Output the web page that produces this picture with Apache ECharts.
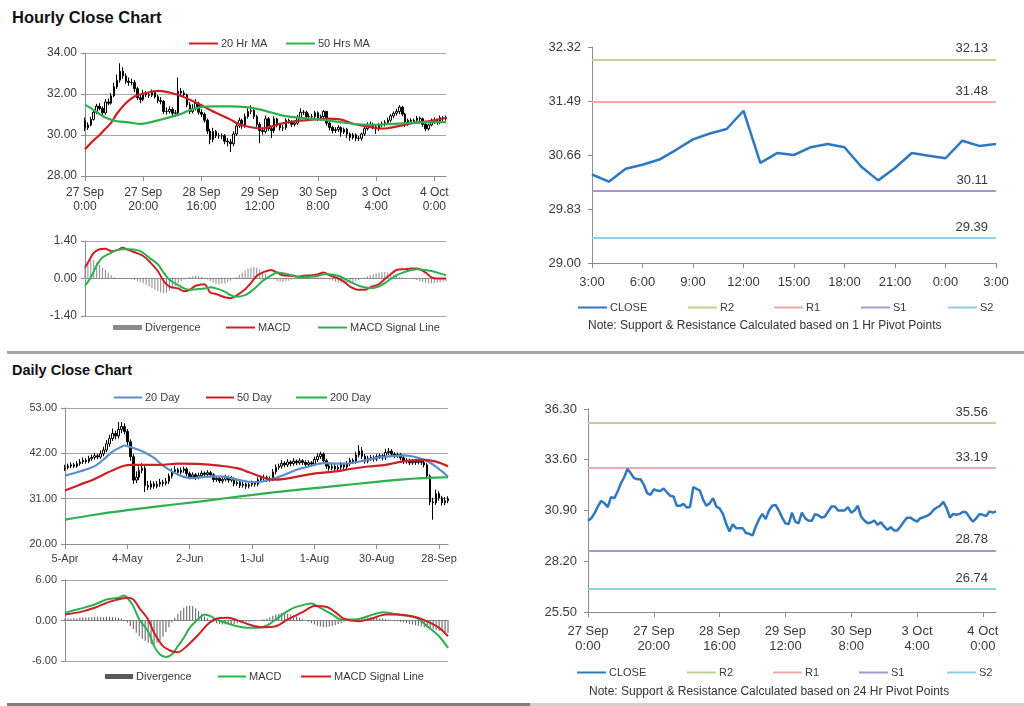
<!DOCTYPE html>
<html><head><meta charset="utf-8">
<script src="https://cdn.jsdelivr.net/npm/echarts@6/dist/echarts.min.js"></script>
<style>
html,body{margin:0;padding:0;background:#fff;width:1024px;height:706px;overflow:hidden;font-family:"Liberation Sans",Arial,sans-serif;}
.c{position:absolute;left:0;top:0;width:1024px;height:706px;}
.t{position:absolute;left:12px;font-weight:bold;color:#111;line-height:1;white-space:nowrap;}
.sep{position:absolute;height:3px;}
</style></head><body>
<div class="t" style="top:9px;font-size:16.5px;">Hourly Close Chart</div>
<div class="t" style="top:363px;font-size:14.5px;">Daily Close Chart</div>
<div class="sep" style="left:7px;width:1017px;top:351px;background:#a6a6a6"></div>
<div class="sep" style="left:7px;width:523px;top:703px;background:#7f7f7f"></div>
<div class="sep" style="left:530px;width:494px;top:703px;background:#cfcfcf"></div>
<div id="c1" class="c"></div><div id="c2" class="c"></div><div id="c3" class="c"></div>
<div id="c4" class="c"></div><div id="c5" class="c"></div><div id="c6" class="c"></div>
<script>
// ---------- categories / tick labels ----------
const hourCats = [];
(function(){let d=27,m='Sep',h=0;for(let i=0;i<125;i++){hourCats.push(d+' '+m+'\n'+h+':00');h++;if(h===24){h=0;d++;if(m==='Sep'&&d===31){d=3;m='Oct';}}}})();
const pivotCats = [];
for (let i=0;i<25;i++) pivotCats.push(((3+i)%24)+':00');
const dayCats = [];
(function(){const mn=['Jan','Feb','Mar','Apr','May','Jun','Jul','Aug','Sep','Oct','Nov','Dec'];let t=Date.UTC(2016,3,5);while(dayCats.length<130){const dt=new Date(t);const wd=dt.getUTCDay();if(wd!==0&&wd!==6)dayCats.push(dt.getUTCDate()+'-'+mn[dt.getUTCMonth()]);t+=86400000;}})();

// ---------- hourly data ----------
const hClose = [30.35,30.49,30.76,31.11,31.41,31.29,31.08,31.61,31.55,31.91,
32.35,32.67,33.11,32.88,32.62,32.56,32.56,32.26,31.82,31.73,
32.03,31.96,31.94,32.07,31.86,31.68,31.64,31.15,31.15,31.25,
31.06,31.08,32.14,32.05,31.96,31.47,31.15,31.29,31.55,31.11,
31.01,30.72,30.19,29.78,30.17,29.96,29.96,29.96,29.70,29.66,
29.57,30.05,30.44,30.72,30.44,30.90,31.15,31.20,30.90,30.52,
30.22,30.17,30.79,30.31,30.22,30.79,30.49,30.35,30.35,30.71,
30.65,30.52,30.58,30.85,31.11,31.11,30.90,30.90,30.90,31.08,
30.79,30.90,31.15,30.58,30.37,30.22,30.26,30.37,30.14,30.28,
30.05,29.87,30.01,29.84,29.84,30.05,30.31,30.52,30.52,30.40,
30.31,30.49,30.54,30.61,30.72,30.93,31.06,31.15,31.36,31.02,
30.52,30.72,30.67,30.72,30.83,30.79,30.52,30.30,30.49,30.72,
30.67,30.61,30.85,30.79,30.85];
const hOpen = [30.70,30.35,30.49,30.76,31.11,31.41,31.29,31.08,31.61,31.55,
31.91,32.35,32.67,33.11,32.88,32.62,32.56,32.56,32.26,31.82,
31.73,32.03,31.96,31.94,32.07,31.86,31.68,31.64,31.15,31.15,
31.25,31.06,31.08,32.14,32.05,31.96,31.47,31.15,31.29,31.55,
31.11,31.01,30.72,30.19,29.78,30.17,29.96,29.96,29.96,29.70,
29.66,29.57,30.05,30.44,30.72,30.44,30.90,31.15,31.20,30.90,
30.52,30.22,30.17,30.79,30.31,30.22,30.79,30.49,30.35,30.35,
30.71,30.65,30.52,30.58,30.85,31.11,31.11,30.90,30.90,30.90,
31.08,30.79,30.90,31.15,30.58,30.37,30.22,30.26,30.37,30.14,
30.28,30.05,29.87,30.01,29.84,29.84,30.05,30.31,30.52,30.52,
30.40,30.31,30.49,30.54,30.61,30.72,30.93,31.06,31.15,31.36,
31.02,30.52,30.72,30.67,30.72,30.83,30.79,30.52,30.30,30.49,
30.72,30.67,30.61,30.85,30.79];
const hHigh = [30.85,30.62,30.88,31.25,31.52,31.55,31.40,31.75,31.78,32.05,
32.55,32.95,33.50,33.30,33.00,32.80,32.75,32.68,32.35,31.98,
32.20,32.15,32.10,32.22,32.15,31.95,31.85,31.70,31.35,31.40,
31.35,31.22,32.80,32.30,32.18,32.02,31.60,31.50,31.75,31.62,
31.25,31.10,30.80,30.30,30.35,30.25,30.10,30.08,30.05,29.85,
29.80,30.18,30.60,30.85,30.80,31.05,31.30,31.45,31.28,30.98,
30.62,30.35,30.95,30.88,30.42,30.92,30.85,30.58,30.50,30.82,
30.80,30.72,30.70,30.98,31.30,31.22,31.18,31.05,31.02,31.18,
31.15,31.00,31.22,31.18,30.65,30.45,30.38,30.48,30.42,30.36,
30.35,30.12,30.10,30.08,29.95,30.12,30.42,30.62,30.65,30.60,
30.50,30.58,30.66,30.72,30.85,31.02,31.15,31.28,31.45,31.42,
31.08,30.80,30.82,30.80,30.92,30.90,30.85,30.58,30.55,30.80,
30.85,30.75,30.95,30.92,30.95];
const hLow = [30.20,30.25,30.42,30.70,31.02,31.20,30.98,31.00,31.45,31.48,
31.85,32.25,32.55,32.75,32.50,32.40,32.42,32.10,31.70,31.55,
31.65,31.85,31.80,31.85,31.78,31.55,31.50,31.02,31.00,31.05,
30.92,30.90,30.98,31.90,31.82,31.35,31.02,31.05,31.20,31.00,
30.88,30.60,30.05,29.55,29.65,29.85,29.82,29.80,29.55,29.45,
29.17,29.45,29.95,30.35,30.30,30.35,30.80,31.02,30.78,30.40,
29.60,30.02,30.08,30.20,29.85,30.10,30.38,30.22,30.20,30.25,
30.55,30.40,30.42,30.50,30.75,30.98,30.80,30.78,30.80,30.82,
30.68,30.70,30.82,30.45,30.22,30.08,30.10,30.15,29.92,30.05,
29.85,29.72,29.78,29.70,29.70,29.72,29.95,30.22,30.40,30.28,
30.05,30.20,30.38,30.42,30.50,30.62,30.82,30.95,31.02,30.92,
30.40,30.45,30.55,30.58,30.62,30.65,30.40,30.18,30.22,30.42,
30.55,30.50,30.52,30.68,30.70];
// moving averages read at sampled hours: [hour index, value]
const hMA20 = [[0,29.3],[3,29.75],[5,30.0],[7,30.3],[9,30.6],[11,31.05],[14,31.55],[17,31.88],[21,32.05],[25,32.15],[28,32.1],[32,31.95],[36,31.72],[40,31.45],[43,31.22],[47,30.95],[50,30.75],[53,30.52],[57,30.38],[61,30.32],[64,30.42],[67,30.54],[72,30.67],[78,30.75],[83,30.8],[88,30.75],[92,30.55],[97,30.42],[101,30.31],[104,30.33],[109,30.47],[113,30.59],[118,30.67],[122,30.78],[124,30.83]];
const hMA50 = [[0,31.48],[3,31.22],[7,30.85],[11,30.67],[15,30.62],[19,30.54],[22,30.6],[26,30.75],[29,30.86],[33,31.03],[36,31.22],[40,31.37],[44,31.4],[50,31.4],[56,31.35],[60,31.25],[64,31.1],[69,30.92],[75,30.83],[81,30.75],[87,30.64],[92,30.55],[98,30.5],[104,30.53],[110,30.58],[116,30.62],[124,30.63]];
const hMacd = [[0,0.41],[1,0.59],[3,0.96],[5,1.09],[7,1.11],[9,1.02],[11,1.06],[13,1.15],[15,1.06],[18,0.94],[20,0.84],[22,0.65],[25,0.28],[27,-0.09],[29,-0.30],[32,-0.37],[34,-0.48],[36,-0.42],[38,-0.27],[41,-0.21],[43,-0.52],[45,-0.58],[48,-0.70],[50,-0.74],[52,-0.64],[55,-0.40],[57,-0.17],[59,0.10],[61,0.22],[64,0.32],[66,0.22],[68,0.12],[71,0.10],[73,0.07],[75,0.10],[78,0.12],[80,0.16],[82,0.22],[84,0.12],[87,0.0],[89,-0.12],[91,-0.30],[94,-0.42],[96,-0.42],[98,-0.33],[101,-0.21],[103,-0.02],[105,0.16],[107,0.32],[110,0.35],[112,0.37],[114,0.37],[117,0.22],[119,0.04],[121,0.0],[124,0.0]];
const hSignal = [[0,-0.27],[2,0.04],[4,0.49],[6,0.78],[9,0.96],[11,1.06],[13,1.09],[15,1.09],[18,1.06],[20,0.96],[22,0.78],[25,0.53],[27,0.22],[29,-0.05],[32,-0.25],[34,-0.37],[36,-0.42],[38,-0.40],[41,-0.37],[43,-0.33],[45,-0.37],[48,-0.49],[50,-0.62],[52,-0.68],[55,-0.62],[57,-0.49],[59,-0.30],[61,-0.09],[64,0.12],[66,0.22],[68,0.20],[71,0.12],[73,0.07],[75,0.04],[78,0.07],[80,0.10],[82,0.16],[84,0.16],[87,0.10],[89,0.0],[91,-0.12],[94,-0.27],[96,-0.33],[98,-0.36],[101,-0.30],[103,-0.17],[105,-0.02],[107,0.12],[110,0.25],[112,0.32],[114,0.35],[117,0.32],[119,0.28],[121,0.22],[124,0.12]];
const hDiv = [0.45,0.65,0.72,0.68,0.60,0.50,0.40,0.32,0.22,0.12,
0.05,0.02,0.02,0.03,0.02,-0.01,-0.03,-0.06,-0.10,-0.14,
-0.18,-0.24,-0.30,-0.36,-0.42,-0.48,-0.52,-0.55,-0.52,-0.46,
-0.38,-0.28,-0.18,-0.10,-0.04,0.02,0.06,0.08,0.10,0.08,
0.06,0.02,-0.04,-0.10,-0.16,-0.20,-0.22,-0.20,-0.18,-0.14,
-0.08,-0.02,0.05,0.14,0.22,0.30,0.36,0.40,0.42,0.40,
0.34,0.26,0.18,0.10,0.02,-0.04,-0.10,-0.12,-0.12,-0.10,
-0.08,-0.05,-0.03,-0.01,0.01,0.02,0.03,0.04,0.05,0.06,
0.05,0.04,0.02,-0.02,-0.05,-0.08,-0.12,-0.16,-0.18,-0.20,
-0.20,-0.18,-0.15,-0.10,-0.06,-0.02,0.03,0.08,0.12,0.16,
0.20,0.22,0.24,0.24,0.22,0.18,0.14,0.10,0.06,0.04,
0.02,0.01,0.00,-0.03,-0.06,-0.10,-0.14,-0.16,-0.18,-0.18,
-0.18,-0.16,-0.14,-0.12,-0.10];

// ---------- 1 hr pivot chart ----------
const pivotClose = [30.36,30.25,30.45,30.51,30.59,30.74,30.90,30.99,31.06,31.34,
30.54,30.69,30.66,30.78,30.83,30.78,30.48,30.27,30.46,30.69,
30.65,30.61,30.88,30.80,30.83];
const pivot1h = {R2:32.13, R1:31.48, S1:30.11, S2:29.39};
const pivot24h = {R2:35.56, R1:33.19, S1:28.78, S2:26.74};

// ---------- daily data ----------
const dClose = [38.6,38.9,39.2,38.9,39.5,39.9,40.3,40.0,40.7,41.0,
41.4,41.1,41.9,42.8,44.3,45.6,46.8,46.2,47.8,48.5,
47.3,44.8,41.2,35.5,36.2,37.8,38.4,34.2,33.8,34.6,
34.0,34.5,35.0,34.7,35.2,36.5,37.6,38.0,37.4,37.9,
38.2,37.1,36.3,36.8,36.1,36.6,37.2,36.9,37.3,36.8,
35.6,35.9,35.3,35.7,36.2,35.5,35.9,34.6,34.9,34.2,
34.5,34.0,34.4,34.8,34.5,35.6,35.9,36.2,35.6,35.8,
37.5,38.6,38.9,39.6,39.2,39.9,39.5,40.1,39.7,40.2,
39.8,39.3,39.7,39.4,40.5,41.2,41.8,40.2,38.9,38.4,
38.8,38.2,38.6,39.3,38.7,39.5,40.3,40.0,41.6,42.6,
41.3,40.1,40.8,41.0,40.6,41.2,41.4,40.9,42.2,42.5,
41.8,41.4,41.7,40.9,40.0,40.3,39.7,40.1,39.8,40.0,
39.8,39.2,36.5,30.2,30.0,32.2,31.2,30.0,30.5,31.0];
const dOpen = [38.3,38.6,38.9,39.2,38.9,39.5,39.9,40.3,40.0,40.7,
41.0,41.4,41.1,41.9,42.8,44.3,45.6,46.8,46.2,47.8,
48.5,47.3,44.8,41.2,35.5,36.2,37.8,38.4,34.2,33.8,
34.6,34.0,34.5,35.0,34.7,35.2,36.5,37.6,38.0,37.4,
37.9,38.2,37.1,36.3,36.8,36.1,36.6,37.2,36.9,37.3,
36.8,35.6,35.9,35.3,35.7,36.2,35.5,35.9,34.6,34.9,
34.2,34.5,34.0,34.4,34.8,34.5,35.6,35.9,36.2,35.6,
35.8,37.5,38.6,38.9,39.6,39.2,39.9,39.5,40.1,39.7,
40.2,39.8,39.3,39.7,39.4,40.5,41.2,41.8,40.2,38.9,
38.4,38.8,38.2,38.6,39.3,38.7,39.5,40.3,40.0,41.6,
42.6,41.3,40.1,40.8,41.0,40.6,41.2,41.4,40.9,42.2,
42.5,41.8,41.4,41.7,40.9,40.0,40.3,39.7,40.1,39.8,
40.0,39.8,39.2,36.5,30.2,30.0,32.2,31.2,30.0,30.5];
const dHigh = [39.2,39.5,39.8,39.7,40.1,40.6,41.0,40.8,41.4,41.7,
42.1,41.9,42.7,43.6,45.2,46.5,48.0,47.5,49.6,49.6,
49.3,47.9,45.4,41.8,37.6,38.8,39.6,38.9,35.3,35.4,
35.2,35.3,35.8,35.6,36.0,37.1,38.3,38.9,38.5,38.6,
38.8,38.6,37.6,37.4,37.2,37.3,37.8,37.6,37.9,37.7,
37.2,36.5,36.3,36.3,36.8,36.6,36.5,36.2,35.6,35.3,
35.1,34.9,35.0,35.4,35.2,36.2,36.6,36.8,36.6,36.4,
38.2,39.3,39.5,40.4,40.1,40.6,40.3,40.8,40.5,40.8,
40.6,40.3,40.3,40.1,41.2,42.0,42.4,42.2,40.7,39.5,
39.4,39.3,39.1,39.9,39.7,40.1,40.9,40.8,42.4,44.0,
43.5,41.8,41.4,41.6,41.5,41.8,42.0,41.8,43.1,43.3,
43.0,42.3,42.2,42.1,41.4,40.8,40.7,40.6,40.5,40.5,
40.4,40.2,39.6,36.9,31.2,33.2,32.8,31.7,31.4,31.6];
const dLow = [37.7,38.1,38.4,38.4,38.5,39.0,39.4,39.5,39.6,40.2,
40.5,40.6,40.7,41.3,42.3,43.6,45.0,45.4,45.6,46.9,
46.6,44.0,40.2,34.6,34.8,35.5,37.1,32.6,33.1,33.2,
33.4,33.5,33.9,34.0,34.2,34.6,35.9,37.0,36.8,36.9,
37.3,36.5,35.7,35.8,35.5,35.7,36.1,36.3,36.4,36.2,
35.0,35.1,34.8,34.7,35.2,34.9,35.0,34.0,34.1,33.6,
33.7,33.4,33.5,33.9,33.9,34.0,35.0,35.3,35.0,35.1,
35.3,36.9,38.0,38.3,38.6,38.7,38.9,39.0,39.1,39.2,
39.2,38.7,38.8,38.8,38.9,39.9,40.6,39.5,38.2,37.8,
37.9,37.6,37.7,38.0,38.1,38.2,38.9,39.4,39.5,41.0,
40.6,39.5,39.6,40.2,40.0,40.1,40.6,40.3,40.4,41.6,
41.2,40.8,40.9,40.3,39.4,39.5,39.1,39.2,39.2,39.3,
39.2,38.6,35.8,29.4,25.9,29.5,30.5,29.3,29.4,29.9];
// moving averages read at sampled days: [day index, value]
const dMA20 = [[0,36.6],[5,37.6],[10,38.9],[13,40.5],[16,42.4],[19,43.6],[20,43.9],[23,43.3],[26,42.5],[30,40.9],[33,39.0],[37,37.2],[40,36.3],[43,36.0],[47,36.3],[50,36.4],[54,36.3],[57,35.8],[60,35.3],[63,35.0],[66,35.1],[70,35.8],[74,36.8],[78,38.0],[83,39.0],[87,39.6],[92,39.5],[96,39.6],[101,40.3],[105,40.9],[110,41.3],[114,41.5],[119,40.9],[123,39.7],[127,37.6],[129,36.3]];
const dMA50 = [[0,33.0],[5,34.4],[10,35.8],[14,37.2],[18,38.5],[20,39.0],[22,39.2],[28,39.2],[32,39.2],[38,39.5],[46,39.4],[52,39.0],[58,38.4],[62,37.4],[66,36.3],[70,35.6],[74,35.8],[80,36.6],[85,37.2],[91,37.6],[96,38.2],[102,38.8],[108,39.2],[112,39.8],[117,40.3],[121,40.4],[125,40.0],[128,39.2],[129,38.8]];
const dMA200 = [[0,25.9],[10,27.1],[21,28.2],[32,29.2],[43,30.1],[54,31.1],[64,32.0],[75,32.9],[86,33.7],[97,34.5],[108,35.3],[118,35.9],[121,36.0],[129,36.2]];
const dMacd = [[0,1.14],[5,1.73],[10,2.38],[14,3.1],[18,3.37],[20,3.7],[21,3.37],[23,2.13],[25,0.15],[28,-1.58],[30,-3.8],[32,-5.05],[34,-5.4],[36,-5.05],[38,-3.8],[40,-2.57],[42,-1.09],[45,0.25],[47,0.89],[49,0.64],[51,0.15],[55,-0.45],[58,-0.84],[62,-1.09],[65,-1.09],[68,-0.74],[71,0.15],[74,1.14],[77,1.88],[81,2.38],[83,2.52],[86,1.88],[90,0.89],[93,0.15],[98,0.15],[102,0.64],[107,1.24],[109,1.14],[112,0.89],[116,0.64],[119,0.25],[122,-0.84],[126,-2.33],[129,-4.06]];
const dSignal = [[0,0.89],[5,1.24],[10,1.88],[14,2.62],[17,3.02],[21,3.37],[23,3.12],[25,1.88],[28,0.15],[30,-1.83],[33,-3.8],[36,-4.55],[38,-4.7],[41,-3.8],[45,-2.08],[48,-0.59],[51,0.25],[55,0.4],[58,0.05],[62,-0.59],[66,-0.99],[71,-0.84],[75,0.15],[80,1.24],[84,2.13],[88,2.03],[91,1.24],[94,0.25],[99,-0.1],[103,0.25],[108,0.89],[112,0.89],[117,0.64],[121,0.05],[126,-1.09],[129,-2.33]];
const dDiv = [0.25,0.3,0.3,0.35,0.35,0.4,0.45,0.45,0.5,0.5,
0.55,0.55,0.5,0.5,0.55,0.55,0.5,0.45,0.4,0.3,
0.1,-0.3,-0.8,-1.3,-1.8,-2.3,-2.7,-3.0,-3.3,-3.5,
-3.5,-3.3,-3.0,-2.4,-1.7,-1.0,-0.3,0.4,1.0,1.5,
1.9,2.1,2.2,2.1,1.8,1.4,1.0,0.6,0.3,0.0,
-0.2,-0.4,-0.5,-0.6,-0.6,-0.6,-0.5,-0.5,-0.4,-0.3,
-0.3,-0.2,-0.2,-0.1,-0.1,0.0,0.1,0.2,0.3,0.5,
0.7,0.9,1.0,1.1,1.1,1.0,0.9,0.8,0.6,0.4,
0.2,0.0,-0.2,-0.4,-0.6,-0.8,-0.9,-1.0,-1.0,-0.9,
-0.8,-0.7,-0.5,-0.4,-0.2,-0.1,0.0,0.1,0.2,0.3,
0.4,0.4,0.5,0.5,0.5,0.4,0.3,0.3,0.2,0.1,
0.0,-0.1,-0.1,-0.2,-0.3,-0.4,-0.5,-0.6,-0.7,-0.8,
-0.9,-1.0,-1.1,-1.2,-1.3,-1.4,-1.5,-1.6,-1.7,-1.8];

// ---------- styling ----------
const FONT = 'Liberation Sans';
const TXT = '#3a3a3a';
const AX = '#8c8c8c';
const GRIDC = '#a6a6a6';
const RED = '#cc2027', GREEN = '#2db04e', BLUE = '#2f78bd', LBLUE = '#5b8dcc', GREY = '#8a8a8a', DGREY = '#5a5a5a';
const LVL = {R2:'#bcd48d', R1:'#f2a9a9', S1:'#a996cc', S2:'#8fd0e6'};
const f2 = v => v.toFixed(2);

// items: [name, left, isRect, width]
function legendItems(items, top, h) {
  return items.map(it => {
    const lg = {
      left: it[1], top: top, data: [it[2] ? {name: it[0], icon: 'rect'} : it[0]],
      itemWidth: it[3] || 29, itemHeight: h, itemGap: 0, selectedMode: false,
      textStyle: {fontSize: 11, color: TXT, fontFamily: FONT, padding: [0,0,0,-2]}
    };
    if (!it[2]) lg.itemStyle = {opacity: 0};
    return lg;
  });
}
function lineSeries(name, data, color, w) {
  return {name, type:'line', data, symbol:'none', smooth:0.3, lineStyle:{color, width:w||2}, itemStyle:{color}, z:3};
}
function yAx(min, max, interval, fs, extra) {
  return Object.assign({type:'value', min, max, interval,
    axisLine:{show:true, lineStyle:{color:AX}}, axisTick:{show:true, length:4, lineStyle:{color:AX}},
    axisLabel:{formatter:f2, fontSize:fs, color:TXT, fontFamily:FONT, margin:8},
    splitLine:{show:true, lineStyle:{color:GRIDC}}}, extra||{});
}
function mk(id, opt) {
  const ch = echarts.init(document.getElementById(id), null, {renderer:'canvas'});
  opt.animation = false;
  opt.textStyle = {fontFamily: FONT};
  ch.setOption(opt);
}

// Chart 1: hourly candles
mk('c1', {
  legend: legendItems([['20 Hr MA',183],['50 Hrs MA',280]], 33, 10),
  grid:{left:85, top:53, width:361, height:123},
  xAxis:{type:'category', data:hourCats, boundaryGap:false,
    axisLine:{lineStyle:{color:AX}}, axisTick:{interval:19, length:5, lineStyle:{color:AX}},
    axisLabel:{interval:19, fontSize:12, color:TXT, lineHeight:14, margin:10}, splitLine:{show:false}},
  yAxis: yAx(28, 34, 2, 12),
  series:[
    {name:'Price', type:'candlestick', barWidth:2,
     data: hClose.map((c,i)=>[hOpen[i], c, hLow[i], hHigh[i]]),
     itemStyle:{color:'#ffffff', color0:'#000000', borderColor:'#000000', borderColor0:'#000000', borderWidth:1}},
    lineSeries('20 Hr MA', hMA20, RED, 2.2),
    lineSeries('50 Hrs MA', hMA50, GREEN, 2.2)
  ]
});

// Chart 2: hourly MACD
mk('c2', {
  legend: legendItems([['Divergence',108,true],['MACD',220],['MACD Signal Line',312]], 317, 5),
  grid:{left:85, top:241, width:361, height:75},
  xAxis:{type:'category', data:hourCats, boundaryGap:false, axisLine:{lineStyle:{color:AX}},
    axisTick:{show:false}, axisLabel:{show:false}},
  yAxis: yAx(-1.4, 1.4, 1.4, 12),
  series:[
    {name:'Divergence', type:'bar', data:hDiv, barWidth:1, itemStyle:{color:GREY}},
    lineSeries('MACD', hMacd, RED, 2),
    lineSeries('MACD Signal Line', hSignal, GREEN, 2)
  ]
});

function pivotOption(cats, close, lv, yMin, yMax, yInt, grid, labelInt, legendTop, legendX, note, noteTop, noteLeft, xfs) {
  const levelSeries = ['R2','R1','S1','S2'].map(k => ({
    name:k, type:'line', data:[], symbol:'none', lineStyle:{color:LVL[k], width:2}, itemStyle:{color:LVL[k]},
    markLine:{silent:true, symbol:'none', animation:false,
      lineStyle:{color:LVL[k], width:2, type:'solid'},
      label:{position:'insideEndTop', formatter: p => f2(p.value), fontSize:13, color:TXT, fontFamily:FONT, distance:[8,4]},
      data:[{yAxis: lv[k]}]}
  }));
  return {
    legend: legendItems([['CLOSE',legendX[0]],['R2',legendX[1]],['R1',legendX[2]],['S1',legendX[3]],['S2',legendX[4]]], legendTop, 10),
    grid: grid,
    xAxis:{type:'category', data:cats, boundaryGap:false,
      axisLine:{lineStyle:{color:AX}}, axisTick:{interval:labelInt, length:5, lineStyle:{color:AX}},
      axisLabel:{interval:labelInt, fontSize:xfs, color:TXT, lineHeight:15, margin:12}, splitLine:{show:false}},
    yAxis: yAx(yMin, yMax, yInt, 13, {splitLine:{show:false}, axisLabel:{formatter:f2, fontSize:13, color:TXT, fontFamily:FONT, margin:11}}),
    graphic:[{type:'text', left:noteLeft, top:noteTop, style:{text:note, fontSize:12, fill:'#333', fontFamily:FONT}}],
    series:[{name:'CLOSE', type:'line', data:close, symbol:'none', lineStyle:{color:BLUE, width:2.5}, itemStyle:{color:BLUE}, z:5}].concat(levelSeries)
  };
}

// Chart 3: 1 hr pivot
mk('c3', pivotOption(pivotCats, pivotClose, pivot1h, 29.00, 32.32, 0.83,
  {left:592, top:47, width:404, height:216}, 2, 297, [572,682,768,855,942],
  'Note: Support & Resistance Calculated based on 1 Hr Pivot Points', 320, 588, 13));

// Chart 5: 24 hr pivot
mk('c5', pivotOption(hourCats, hClose, pivot24h, 25.50, 36.30, 2.70,
  {left:588, top:409, width:408, height:203}, 19, 662, [571,681,767,853,941],
  'Note: Support & Resistance Calculated based on 24 Hr Pivot Points', 686, 589, 13));

// Chart 4: daily candles
mk('c4', {
  legend: legendItems([['20 Day',108,false,28],['50 Day',200,false,28],['200 Day',290,false,31]], 387, 10),
  grid:{left:65, top:408, width:383, height:136},
  xAxis:{type:'category', data:dayCats, boundaryGap:false,
    axisLine:{lineStyle:{color:AX}}, axisTick:{interval:20, length:5, lineStyle:{color:AX}},
    axisLabel:{interval:20, fontSize:11, color:TXT, margin:9}, splitLine:{show:false}},
  yAxis: yAx(20, 53, 11, 11),
  series:[
    {name:'Price', type:'candlestick', barWidth:2,
     data: dClose.map((c,i)=>[dOpen[i], c, dLow[i], dHigh[i]]),
     itemStyle:{color:'#ffffff', color0:'#000000', borderColor:'#000000', borderColor0:'#000000', borderWidth:1}},
    lineSeries('20 Day', dMA20, LBLUE, 2.2),
    lineSeries('50 Day', dMA50, RED, 2.2),
    lineSeries('200 Day', dMA200, GREEN, 2.2)
  ]
});

// Chart 6: daily MACD
mk('c6', {
  legend: legendItems([['Divergence',100,true,28],['MACD',212,false,28],['MACD Signal Line',295,false,30]], 666, 5),
  grid:{left:65, top:580, width:383, height:81},
  xAxis:{type:'category', data:dayCats, boundaryGap:false, axisLine:{lineStyle:{color:AX}},
    axisTick:{show:false}, axisLabel:{show:false}},
  yAxis: yAx(-6, 6, 6, 11),
  series:[
    {name:'Divergence', type:'bar', data:dDiv, barWidth:1, itemStyle:{color:DGREY}},
    lineSeries('MACD', dMacd, GREEN, 2),
    lineSeries('MACD Signal Line', dSignal, RED, 2)
  ]
});
</script>
</body></html>
